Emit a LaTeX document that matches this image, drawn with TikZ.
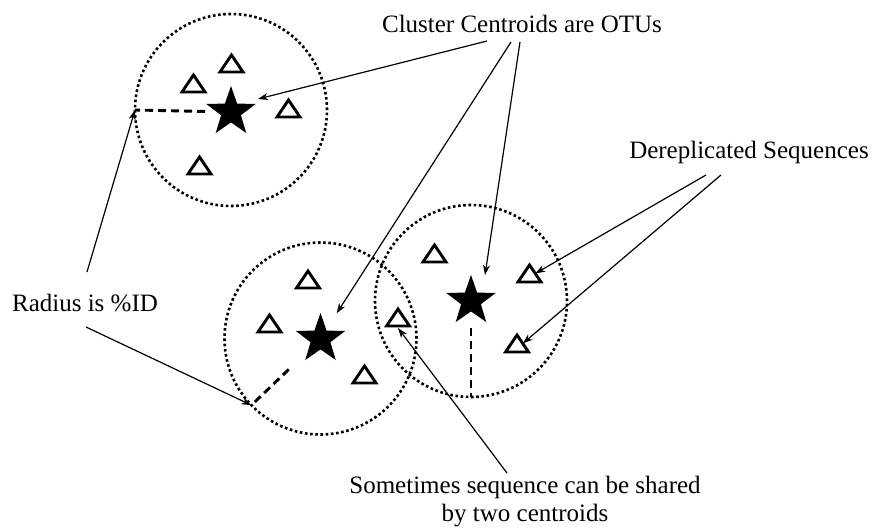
\documentclass[tikz,border=0pt]{standalone}
\usepackage{fontspec}
\setmainfont{Liberation Serif}
\usetikzlibrary{shapes.geometric,arrows.meta,calc}
\begin{document}
\begin{tikzpicture}[x=1pt,y=-1pt,
  cluster/.style={circle,draw,minimum size=192pt,inner sep=0pt,outer sep=0pt,
    line width=2.6pt,dash pattern=on 2.6pt off 2.6pt},
  centroid/.style={star,star points=5,star point ratio=2.5,fill=black,
    minimum size=52pt,inner sep=0pt,outer sep=0pt},
  radiusline/.style={line width=2.9pt,dash pattern=on 8pt off 5pt},
  callout/.style={line width=1.2pt,-{Stealth[length=10pt,width=7pt,inset=3pt]}},
  txt/.style={font=\fontsize{25}{27.5}\selectfont,inner sep=0pt},
  seq/.pic={
    \draw[line width=2.9pt,line join=miter] (0,0) -- (-11.5,17) -- (11.5,17) -- cycle;
    \coordinate (-right) at (5.75,8.5);
    \coordinate (-base) at (0,19);
  }
]
\useasboundingbox (0,0) rectangle (873,528);

% clusters
\node[cluster] (c1) at (231,110) {};
\node[cluster] (c2) at (320.5,338.5) {};
\node[cluster] (c3) at (471,301) {};

% centroids
\node[centroid] (s1) at (231,112) {};
\node[centroid] (s2) at (320.5,339) {};
\node[centroid] (s3) at (471,301) {};

% dereplicated sequences
\pic (t1) at (231.5,55) {seq};
\pic (t2) at (193.5,75) {seq};
\pic (t3) at (288.5,100) {seq};
\pic (t4) at (199.5,157) {seq};
\pic (t5) at (308,271) {seq};
\pic (t6) at (269.5,315) {seq};
\pic (t7) at (364.5,366) {seq};
\pic (t8) at (398,309) {seq};
\pic (t9) at (434.5,245) {seq};
\pic (t10) at (529.5,265) {seq};
\pic (t11) at (517,335) {seq};

% radii
\draw[radiusline,shorten <=26pt] (s1.center) -- (c1.west);
\draw[radiusline,shorten <=44pt] (s2.center) -- (c2.224);
\draw[radiusline,shorten <=27pt] (s3.center) -- (c3.south);

% labels
\node[txt,anchor=base] (cluster) at (522,32) {Cluster Centroids are OTUs};
\node[txt,anchor=base] (derep) at (749,158) {Dereplicated Sequences};
\node[txt,anchor=base] (radius) at (85,311) {Radius is \%ID};
\node[txt,align=center,anchor=north] (shared) at (525,476)
  {Sometimes sequence can be shared\\by two centroids};

% callout starts
\coordinate (cc1) at (487,41);
\coordinate (cc2) at (511,42);
\coordinate (cc3) at (520,42);
\coordinate (ra) at (87,272);
\coordinate (rb) at (86,327);
\coordinate (dr1) at (706,175);
\coordinate (dr2) at (721,175);
\coordinate (sh) at (507,473);

% callouts
\draw[callout] (cc1) -- ($(s1)+(27,-13)$);
\draw[callout] (cc2) -- ($(s2)+(16.2,-25.7)$);
\draw[callout] (cc3) -- ($(s3)+(14,-26)$);
\draw[callout] (ra) -- (c1.west);
\draw[callout] (rb) -- (c2.224);
\draw[callout] (dr1) -- (t10-right);
\draw[callout] (dr2) -- (t11-right);
\draw[callout] (sh) -- (t8-base);
\end{tikzpicture}
\end{document}
